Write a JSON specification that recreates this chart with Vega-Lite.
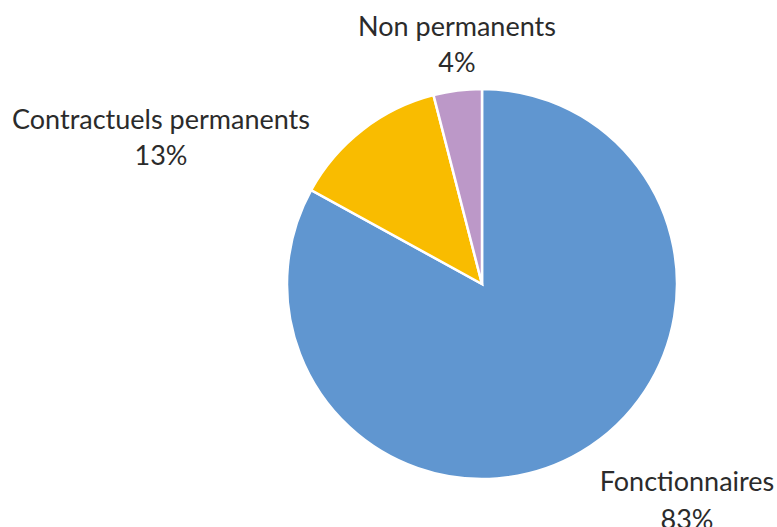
{
  "$schema": "https://vega.github.io/schema/vega-lite/v6.json",
  "autosize": "none",
  "width": 400,
  "height": 400,
  "padding": {"left": 282, "top": 84, "right": 95, "bottom": 43},
  "background": "white",
  "config": {"view": {"stroke": null}},
  "data": {
    "values": [
      {"category": "Fonctionnaires", "value": 83},
      {"category": "Contractuels permanents", "value": 13},
      {"category": "Non permanents", "value": 4}
    ]
  },
  "transform": [
    {"calculate": "[datum.category, datum.value + '%']", "as": "label"}
  ],
  "layer": [
    {
      "mark": {"type": "arc", "outerRadius": 195, "stroke": "white", "strokeWidth": 2.5},
      "encoding": {
        "theta": {"field": "value", "type": "quantitative", "stack": true},
        "order": {"field": "value", "sort": "descending"},
        "color": {
          "field": "category",
          "type": "nominal",
          "scale": {
            "domain": ["Fonctionnaires", "Contractuels permanents", "Non permanents"],
            "range": ["#6096d0", "#f9bc00", "#bc98c8"]
          },
          "legend": null
        }
      }
    },
    {
      "transform": [{"filter": "datum.category == 'Non permanents'"}],
      "mark": {"type": "text", "font": "Lato", "fontSize": 27, "color": "#2b2b2b", "align": "center", "baseline": "alphabetic", "lineHeight": 36, "dx": -25, "dy": -248},
      "encoding": {"text": {"field": "label"}}
    },
    {
      "transform": [{"filter": "datum.category == 'Contractuels permanents'"}],
      "mark": {"type": "text", "font": "Lato", "fontSize": 27, "color": "#2b2b2b", "align": "center", "baseline": "alphabetic", "lineHeight": 36, "dx": -321, "dy": -155},
      "encoding": {"text": {"field": "label"}}
    },
    {
      "transform": [{"filter": "datum.category == 'Fonctionnaires'"}],
      "mark": {"type": "text", "font": "Lato", "fontSize": 27, "color": "#2b2b2b", "align": "center", "baseline": "alphabetic", "lineHeight": 38, "dx": 205, "dy": 207},
      "encoding": {"text": {"field": "label"}}
    }
  ]
}
